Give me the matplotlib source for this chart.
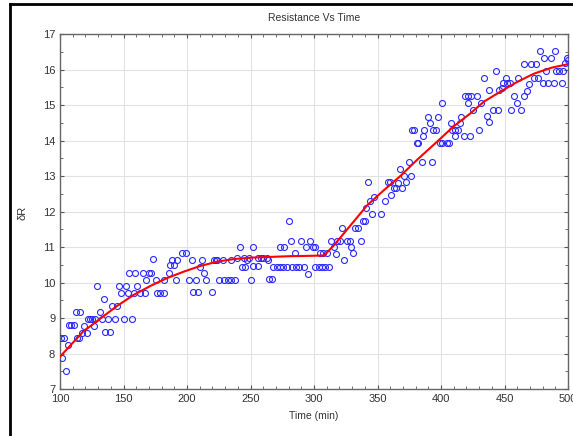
import matplotlib
matplotlib.use("Agg")
import matplotlib.pyplot as plt
from matplotlib.lines import Line2D
from matplotlib.ticker import MultipleLocator

# measured points (time in min, delta R)
time_a = [100.8, 103.4, 101.8, 104.5, 106, 107, 109, 111, 112.4, 116, 113.4, 115, 117.6, 119.2,
          121.3, 122, 124, 125.5, 127.6, 127, 129.5, 131.6, 133, 135.5, 139.7, 135, 138, 143,
          150, 156.6, 141, 145, 146.6, 152, 148, 153.4, 154.5, 159, 165, 170, 158.6, 163, 167,
          161, 168, 173.4, 172, 175.5, 182, 176.6, 179, 182]
val_a = [8.45, 8.45, 7.88, 7.5, 8.24, 8.79, 8.79, 8.79, 9.17, 9.17, 8.43, 8.43, 8.57, 8.77,
         8.59, 8.96, 8.96, 8.96, 8.96, 8.77, 9.9, 9.17, 8.97, 8.6, 8.6, 9.53, 8.96, 8.96,
         8.96, 8.96, 9.34, 9.34, 9.9, 9.9, 9.71, 9.71, 10.26, 10.26, 10.26, 10.26, 9.71, 9.71, 9.71,
         9.9, 10.07, 10.66, 10.26, 10.07, 10.07, 9.71, 9.71, 9.71]

time_b = [185.8, 187, 190, 188, 192, 196, 199.4, 191.5, 201.5, 206.8, 205, 209, 204, 210, 212,
          213, 215, 220, 221, 223, 224, 228, 235, 225, 229, 232, 235, 238, 241.5, 243, 246, 247,
          250, 252, 252, 256, 239, 245, 249, 256, 258, 260, 263]
val_b = [10.26, 10.49, 10.49, 10.63, 10.63, 10.82, 10.82, 10.07, 10.07, 10.07, 9.72, 9.72, 10.63,
         10.44, 10.63, 10.28, 10.07, 9.72, 10.63, 10.63, 10.63, 10.63, 10.63, 10.07, 10.07, 10.07,
         10.07, 10.07, 11.0, 10.44, 10.44, 10.63, 10.07, 11.0, 10.46, 10.46, 10.69, 10.69, 10.69,
         10.69, 10.69, 10.69, 10.69]

time_c = [264, 264.5, 267, 268, 270.5, 273, 275.5, 279, 282.5, 286, 288.5, 292, 273.6, 276, 280,
          282, 285, 290, 297, 294, 299.5, 301, 295, 301, 304, 306.5, 309, 312, 304.5, 307, 310,
          313.6, 318, 316, 317.6, 320.5, 326, 328, 322, 324, 329, 331, 332, 335, 337, 338.4, 340,
          340.7, 342.8, 343.8, 345.4, 347.6]
val_c = [10.63, 10.09, 10.09, 10.44, 10.44, 10.44, 10.44, 10.44, 10.44, 10.44, 10.44, 10.44, 11.0,
         11.0, 11.74, 11.18, 10.82, 11.18, 11.18, 11.0, 11.0, 11.0, 10.24, 10.44, 10.44, 10.44,
         10.44, 10.44, 10.82, 10.82, 10.82, 11.18, 11.18, 10.99, 10.8, 11.18, 11.18, 11.18, 11.53,
         10.63, 11.0, 10.82, 11.53, 11.53, 11.18, 11.74, 11.74, 12.09, 12.82, 12.3, 11.93, 12.42]

time_d = [352.5, 356, 358, 360, 361, 362.6, 364.4, 369, 366, 368, 371, 372.6, 374.7, 376, 377, 379,
          381, 382, 384.7, 386, 387, 389.4, 391, 393, 394, 396, 398, 399, 401, 404.7, 406.5, 400.5,
          408, 409, 411, 411, 413.5, 414.6, 416, 418, 419, 421.5, 421, 423]
val_d = [11.93, 12.3, 12.82, 12.84, 12.46, 12.65, 12.65, 12.65, 12.81, 13.2, 13.0, 12.84, 13.4,
         13.0, 14.3, 14.3, 13.94, 13.94, 13.39, 14.13, 14.3, 14.67, 14.5, 13.39, 14.3, 14.3, 14.67,
         13.94, 13.94, 13.94, 13.94, 15.05, 14.5, 14.3, 14.3, 14.13, 14.3, 14.5, 14.67, 14.13,
         15.24, 15.24, 15.05, 14.13]

time_e = [423.6, 428, 425.4, 429.7, 431.5, 434, 436, 438, 438, 440.7, 444.7, 443, 446, 448, 449,
          452, 454, 451, 455, 457.8, 459.7, 461, 463, 465.7, 467.6, 469.6, 465.7, 471, 475, 473.6,
          476, 478, 480, 484, 488.6, 481, 486.7, 483, 490.7, 492.8, 490, 495.4, 496, 498, 499, 500]
val_e = [15.24, 15.24, 14.86, 14.3, 15.07, 15.77, 14.69, 14.53, 15.42, 14.86, 14.86, 15.96, 15.42,
         15.48, 15.61, 15.61, 15.61, 15.77, 14.86, 15.24, 15.07, 15.77, 14.86, 15.24, 15.4, 15.59,
         16.15, 16.15, 16.15, 15.77, 15.77, 16.52, 15.61, 15.61, 15.61, 16.33, 16.33, 15.96, 15.96,
         15.96, 16.52, 15.61, 15.96, 16.17, 16.33, 16.27]

# fitted curve (red)
fit_t = [100, 118, 132, 145, 158, 171, 184, 197, 210, 224, 237, 250, 265, 280, 295, 308, 316, 329,
         342, 355, 368, 381, 397, 410, 423, 434, 447, 460, 473, 487, 500]
fit_v = [7.91, 8.61, 8.99, 9.34, 9.65, 9.9, 10.12, 10.3, 10.46, 10.59, 10.66, 10.7, 10.72, 10.74,
         10.75, 10.76, 11.06, 11.62, 12.18, 12.6, 13.0, 13.45, 13.97, 14.4, 14.76, 15.1, 15.38,
         15.65, 15.88, 16.05, 16.15]

times = time_a + time_b + time_c + time_d + time_e
values = val_a + val_b + val_c + val_d + val_e

plt.rcParams['font.family'] = ['Liberation Sans', 'DejaVu Sans']

fig = plt.figure(figsize=(5.73, 4.36), dpi=100)
ax = fig.add_axes([60 / 573, 47 / 436, 508 / 573, 355 / 436])

ax.plot(times, values, 'o', mfc='none', mec='#2a2aff', ms=4.3, mew=0.8, zorder=3)
ax.plot(fit_t, fit_v, '-', color='#ff0000', lw=1.5, zorder=4)

ax.set_xlim(100, 500)
ax.set_ylim(7, 17)
ax.xaxis.set_major_locator(MultipleLocator(50))
ax.xaxis.set_minor_locator(MultipleLocator(10))
ax.yaxis.set_major_locator(MultipleLocator(1))
ax.yaxis.set_minor_locator(MultipleLocator(0.5))
ax.tick_params(which='both', direction='in', top=True, right=True, colors='#555555',
               labelcolor='#333333', labelsize=8)
ax.tick_params(which='major', length=3)
ax.tick_params(which='minor', length=2)
ax.grid(True, which='major', color='#e2e2e2', lw=0.8)
ax.set_axisbelow(True)
for s in ax.spines.values():
    s.set_color('#666666')
    s.set_linewidth(1.0)

fig.text(314 / 573, 1 - 18 / 436, 'Resistance Vs Time', ha='center', va='center',
         fontsize=7.5, color='#333333')
fig.text(314 / 573, 1 - 416 / 436, 'Time (min)', ha='center', va='center',
         fontsize=7.5, color='#333333')
fig.text(22 / 573, 1 - 213 / 436, 'δR', ha='center', va='center', rotation=90,
         fontsize=8, color='#333333')

# black frame at left and top (cropped screenshot)
fig.add_artist(Line2D([10 / 573, 10 / 573], [0, 1 - 4 / 436], color='black', lw=2,
                      transform=fig.transFigure))
fig.add_artist(Line2D([10 / 573, 1], [1 - 4 / 436, 1 - 4 / 436], color='black', lw=2,
                      transform=fig.transFigure))

fig.savefig('out.png', dpi=100)
